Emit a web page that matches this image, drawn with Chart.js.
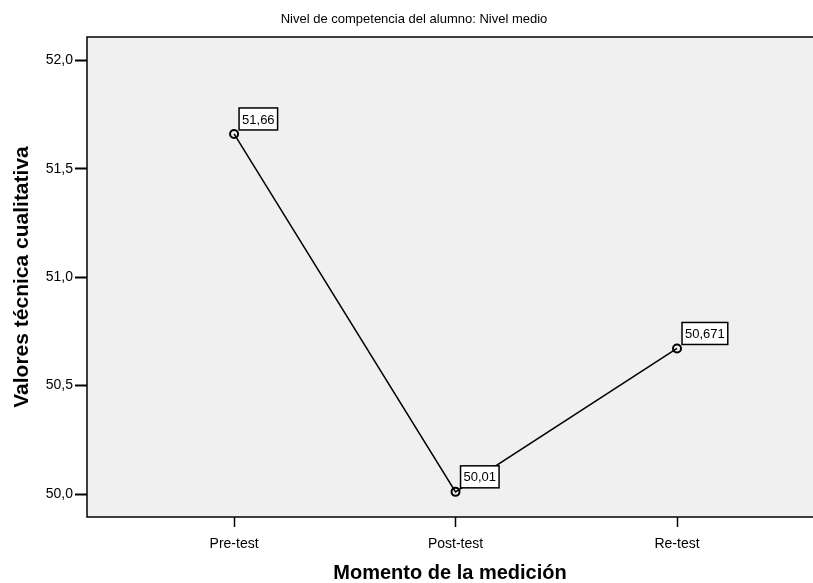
<!DOCTYPE html>
<html><head><meta charset="utf-8">
<script src="https://cdn.jsdelivr.net/npm/chart.js@4/dist/chart.umd.min.js"></script>
<style>html,body{margin:0;padding:0;background:#fff}#wrap{width:813px;height:583px}</style>
</head><body><div id="wrap"><canvas id="c" width="813" height="583"></canvas></div>
<script>
const categories = ["Pre-test", "Post-test", "Re-test"];
const values = [51.66, 50.01, 50.671];
const valueLabels = ["51,66", "50,01", "50,671"];
const yTicks = [50.0, 50.5, 51.0, 51.5, 52.0];
const chartTitle = "Nivel de competencia del alumno: Nivel medio";
const xTitle = "Momento de la medición";
const yTitle = "Valores técnica cualitativa";

const FONT = "'Liberation Sans', Arial, sans-serif";

const bgPlugin = {
  id: 'bgPlugin',
  beforeDraw(chart) {
    const {ctx, chartArea: a} = chart;
    ctx.save();
    ctx.fillStyle = '#F0F0F0';
    ctx.fillRect(a.left, a.top, a.right - a.left, a.bottom - a.top);
    ctx.fillStyle = '#000';
    ctx.font = '13px ' + FONT;
    ctx.textAlign = 'center';
    ctx.textBaseline = 'middle';
    ctx.fillText(chartTitle, 414, 19.5);
    ctx.restore();
  },
  afterDraw(chart) {
    const {ctx, chartArea: a} = chart;
    ctx.save();
    ctx.strokeStyle = '#000';
    ctx.lineWidth = 1.5;
    ctx.strokeRect(a.left, a.top, a.right - a.left + 2, a.bottom - a.top);
    ctx.restore();
  }
};

const labelPlugin = {
  id: 'labelPlugin',
  afterDatasetsDraw(chart) {
    const {ctx} = chart;
    const meta = chart.getDatasetMeta(0);
    ctx.save();
    ctx.font = '13px ' + FONT;
    ctx.textBaseline = 'middle';
    meta.data.forEach((pt, i) => {
      const t = valueLabels[i];
      const w = ctx.measureText(t).width + 6;
      const h = 22;
      const x = pt.x + 5, y = pt.y - 4 - h;
      ctx.fillStyle = '#fff';
      ctx.fillRect(x, y, w, h);
      ctx.strokeStyle = '#000';
      ctx.lineWidth = 1.5;
      ctx.strokeRect(x, y, w, h);
      ctx.fillStyle = '#000';
      ctx.fillText(t, x + 3, y + h / 2 + 1);
    });
    ctx.restore();
  }
};

new Chart(document.getElementById('c'), {
  type: 'line',
  data: {
    datasets: [{
      data: values.map((v, i) => ({x: i, y: v})),
      borderColor: '#000',
      borderWidth: 1.5,
      tension: 0,
      pointRadius: 4,
      pointBorderWidth: 2,
      pointBorderColor: '#000',
      pointBackgroundColor: 'rgba(0,0,0,0)',
      pointHoverRadius: 4
    }]
  },
  options: {
    responsive: false,
    animation: false,
    events: [],
    layout: {autoPadding: false, padding: {left: 0, right: 0, top: 37, bottom: 0}},
    plugins: {
      legend: {display: false},
      tooltip: {enabled: false},
      title: {display: false}
    },
    scales: {
      x: {
        type: 'linear',
        min: -0.664,
        max: 2.614,
        afterBuildTicks(s) { s.ticks = categories.map((c, i) => ({value: i})); },
        afterFit(s) { s.height = 66; },
        ticks: {
          color: '#000',
          font: {family: FONT, size: 14},
          padding: 9,
          autoSkip: false,
          maxRotation: 0,
          callback: (v) => categories[v]
        },
        grid: {drawOnChartArea: false, drawTicks: true, tickLength: 10, tickWidth: 1.5, tickColor: '#000', color: '#000'},
        border: {display: false},
        title: {
          display: true, text: xTitle, color: '#000',
          font: {family: FONT, size: 20, weight: 'bold', lineHeight: 1.0},
          padding: {top: 0, bottom: 0}
        }
      },
      y: {
        type: 'linear',
        min: 49.894,
        max: 52.107,
        afterBuildTicks(s) { s.ticks = yTicks.map(v => ({value: v})); },
        afterFit(s) { s.width = 87; },
        ticks: {
          color: '#000',
          font: {family: FONT, size: 14},
          padding: 2,
          callback: (v) => v.toFixed(1).replace('.', ',')
        },
        grid: {drawOnChartArea: false, drawTicks: true, tickLength: 12, tickWidth: 2, tickColor: '#000', color: '#000'},
        border: {display: false},
        title: {
          display: true, text: yTitle, color: '#000',
          font: {family: FONT, size: 21, weight: 'bold', lineHeight: 1.2},
          padding: {top: 10, bottom: 10}
        }
      }
    }
  },
  plugins: [bgPlugin, labelPlugin]
});
</script>
</body></html>
